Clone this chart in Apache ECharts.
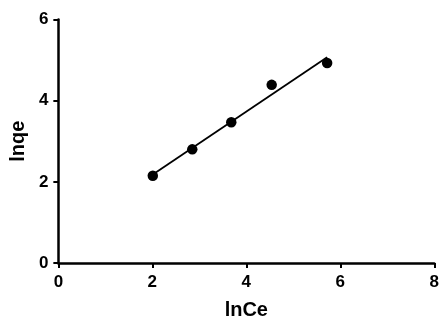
<!DOCTYPE html>
<html><head><meta charset="utf-8">
<script src="https://cdn.jsdelivr.net/npm/echarts@6/dist/echarts.min.js"></script>
<style>html,body{margin:0;padding:0;background:#fff}#c{width:442px;height:325px}</style>
</head><body><div id="c"></div>
<script>
var lnCe = [2.01, 2.85, 3.68, 4.54, 5.72];
var lnqe = [2.15, 2.80, 3.47, 4.39, 4.93];
var fitX = [2.01, 5.72];
var fitY = [2.18, 5.07];
var xTicks = [0, 2, 4, 6, 8];
var yTicks = [0, 2, 4, 6];

var pts = lnCe.map(function(x,i){return [x, lnqe[i]];});
var fit = fitX.map(function(x,i){return [x, fitY[i]];});
var font = '"Liberation Sans", Arial, sans-serif';
var chart = echarts.init(document.getElementById('c'), null, {renderer:'canvas'});
chart.setOption({
  animation:false,
  grid:{left:57.5, right:7, top:19.5, bottom:55, containLabel:false},
  xAxis:{type:'value', min:xTicks[0], max:xTicks[xTicks.length-1], interval:2,
    name:'lnCe', nameLocation:'middle', nameGap:37,
    nameTextStyle:{fontFamily:font, fontWeight:'bold', fontSize:20, color:'#000'},
    axisLine:{lineStyle:{color:'#000', width:2.5}},
    axisTick:{length:5, lineStyle:{color:'#000', width:2}},
    axisLabel:{margin:11, fontFamily:font, fontWeight:'bold', fontSize:17, color:'#000'},
    splitLine:{show:false}},
  yAxis:{type:'value', min:yTicks[0], max:yTicks[yTicks.length-1], interval:2,
    name:'lnqe', nameLocation:'middle', nameGap:30,
    nameTextStyle:{fontFamily:font, fontWeight:'bold', fontSize:20, color:'#000'},
    axisLine:{show:true, lineStyle:{color:'#000', width:2.5}},
    axisTick:{show:true, length:5, lineStyle:{color:'#000', width:2}},
    axisLabel:{margin:10, fontFamily:font, fontWeight:'bold', fontSize:17, color:'#000'},
    splitLine:{show:false}},
  series:[
    {type:'line', data:fit, symbol:'none', lineStyle:{color:'#000', width:1.8}, z:2},
    {type:'scatter', data:pts, symbol:'circle', symbolSize:10.5, itemStyle:{color:'#000', opacity:1}, z:3}
  ]
});
</script></body></html>
